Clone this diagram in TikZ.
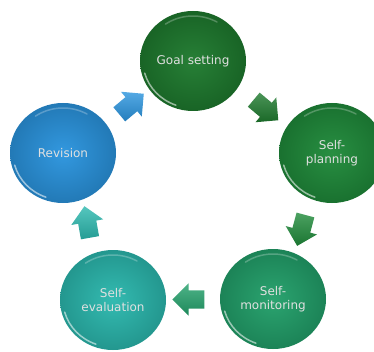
\documentclass[tikz,border=0pt]{standalone}
\usepackage{fontspec}
\setmainfont{DejaVu Sans}
\usetikzlibrary{shapes.geometric,shapes.arrows,calc}
\definecolor{goalgreen}{HTML}{1E7A2E}
\definecolor{plangreen}{HTML}{1F8A3A}
\definecolor{mongreen}{HTML}{22A06A}
\definecolor{evalteal}{HTML}{2BB8AE}
\definecolor{revblue}{HTML}{2A94DE}
\begin{document}
\begin{tikzpicture}[x=1pt, y=1pt, font=\fontsize{12}{14.5}\selectfont, line join=round, line cap=round,
	ball/.style={ellipse, minimum width=106pt, minimum height=100pt, inner sep=0pt, align=center,
		text=white!88!black, inner color=#1!96!white, outer color=#1!82!black},
	steparrow/.style={single arrow, minimum height=32pt, minimum width=32pt, inner sep=9pt,
		single arrow head extend=7pt, top color=#1!80!white, bottom color=#1!85!black},
	gloss/.style={white, line width=1.5pt, opacity=.55}]
	\useasboundingbox (0,0) rectangle (374,351);
	\node[ball=goalgreen] (goal) at (193,290) {Goal setting};
	\node[ball=plangreen] (plan) at (332,198) {Self-\\planning};
	\node[ball=mongreen] (mon) at (273,52) {Self-\\monitoring};
	\node[ball=evalteal] (eval) at (113,51) {Self-\\evaluation};
	\node[ball=revblue] (rev) at (63,198) {Revision};
	\foreach \n in {goal,plan,mon,eval,rev}
	\draw[gloss] ($(\n.center)+(195:50pt and 47pt)$) arc[start angle=195, end angle=250, x radius=50pt, y radius=47pt];% glans onder
	\foreach \n in {goal,plan,mon,eval,rev}
	\draw[gloss, opacity=.25] ($(\n.center)+(60:48pt and 45pt)$) arc[start angle=60, end angle=125, x radius=48pt, y radius=45pt];% glans boven
	\foreach \a/\b/\r/\c in {goal/plan/-40/goalgreen, plan/mon/-105/plangreen, mon/eval/180/mongreen, eval/rev/100/evalteal, rev/goal/40/revblue}
	\node[steparrow=\c, rotate=\r] (\a-\b) at ($(\a)!.5!(\b)$) {};% pijlen tussen de stappen
\end{tikzpicture}
\end{document}
